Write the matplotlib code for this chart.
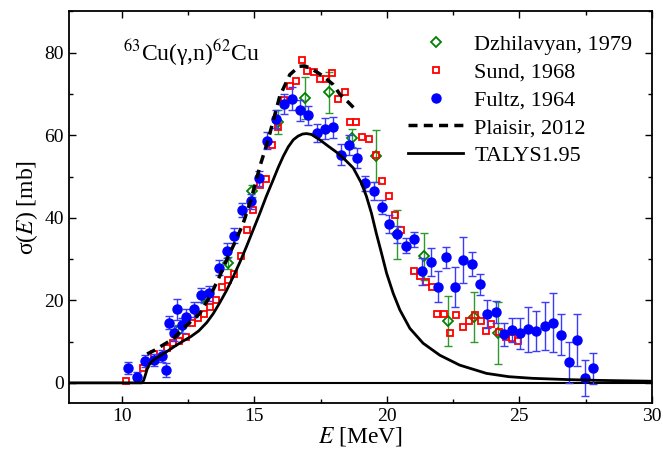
import matplotlib
matplotlib.use("Agg")
import matplotlib.pyplot as plt
from matplotlib.ticker import MultipleLocator

plt.rcParams['font.family'] = 'serif'
plt.rcParams['font.serif'] = ['Liberation Serif', 'DejaVu Serif']
plt.rcParams['mathtext.fontset'] = 'stix'

# ---- data ----
fultz_E = [10.24, 10.58, 10.88, 11.21, 11.5, 11.65, 11.79, 11.97, 12.09, 12.25, 12.42, 12.72,
           13.0, 13.28, 13.66, 13.95, 14.24, 14.54, 14.87, 15.18, 15.48, 15.81, 16.11, 16.43,
           16.72, 17.03, 17.35, 17.66, 17.95, 18.26, 18.57, 18.88, 19.19, 19.51, 19.8, 20.09,
           20.4, 20.72, 21.03, 21.33, 21.66, 21.94, 22.25, 22.57, 22.88, 23.2, 23.51, 23.8,
           24.11, 24.42, 24.73, 25.02, 25.33, 25.65, 25.96, 26.28, 26.59, 26.88, 27.18, 27.48, 27.78]
fultz_s = [3.6, 1.5, 5.3, 5.5, 6.5, 3.1, 14.6, 12.0, 17.8, 14.0, 16.0, 17.8,
           21.3, 21.7, 27.9, 32.0, 35.7, 41.9, 44.0, 49.6, 58.7, 64.0, 67.6, 68.8,
           66.0, 64.8, 60.6, 61.6, 61.9, 55.3, 57.6, 54.5, 48.4, 46.4, 42.7, 38.5,
           36.0, 33.2, 34.8, 27.0, 29.2, 23.3, 30.4, 23.3, 29.8, 28.8, 23.9, 16.7,
           17.2, 11.8, 12.8, 12.0, 13.0, 12.6, 13.8, 14.6, 11.7, 5.0, 10.4, 1.2, 3.5]
fultz_err = [1.5, 1.2, 1.5, 1.5, 1.5, 1.8, 1.5, 1.8, 2.5, 1.8, 1.8, 1.8,
             1.8, 1.8, 1.8, 1.8, 1.8, 1.8, 1.8, 1.8, 2.0, 2.2, 2.4, 2.8,
             2.6, 2.4, 2.2, 2.6, 2.6, 2.6, 2.4, 2.5, 1.8, 2.2, 1.7, 2.2,
             2.0, 1.8, 1.8, 3.2, 3.4, 3.8, 2.6, 4.8, 5.6, 3.0, 2.6, 3.4,
             2.6, 2.8, 2.8, 3.8, 5.5, 4.9, 5.9, 7.1, 4.9, 5.0, 6.3, 4.4, 3.8]

sund_E = [10.14, 10.79, 11.22, 11.72, 11.91, 12.16, 12.42, 12.65, 12.88, 13.09, 13.32, 13.55,
          13.79, 14.01, 14.23, 14.49, 14.73, 14.96, 15.21, 15.42, 15.65, 15.9, 16.11, 16.34,
          16.57, 16.8, 16.99, 17.25, 17.48, 17.7, 17.92, 18.16, 18.42, 18.6, 18.85, 19.08,
          19.33, 19.58, 19.83, 20.09, 20.3, 20.55, 21.02, 21.25, 21.47, 21.69, 21.91, 22.16,
          22.4, 22.63, 22.86, 23.09, 23.32, 23.57, 23.76, 23.95, 24.23, 24.48, 24.73, 24.96]
sund_s = [0.5, 3.5, 7.1, 8.4, 9.6, 10.2, 11.2, 14.6, 15.6, 16.7, 18.5, 20.1,
          23.2, 24.9, 26.3, 30.8, 37.1, 41.8, 48.0, 49.4, 57.6, 62.0, 68.6, 71.9,
          73.1, 78.2, 75.5, 75.3, 73.7, 73.7, 75.1, 68.8, 70.4, 63.1, 63.2, 59.6,
          59.2, 55.3, 49.0, 45.2, 40.6, 37.1, 27.0, 25.9, 24.5, 23.3, 16.6, 16.8,
          12.0, 16.4, 13.6, 15.1, 16.5, 15.1, 12.6, 14.3, 12.4, 11.0, 10.8, 10.2]

dzh_E = [12.1, 13.1, 14.0, 14.9, 15.9, 16.9, 17.8, 18.7, 19.6, 20.4, 21.4, 22.3, 23.3, 24.2]
dzh_s = [12.5, 20.8, 29.0, 46.5, 63.2, 69.0, 70.4, 59.3, 54.9, 36.0, 30.7, 15.0, 16.0, 12.1]
dzh_err = [1.5, 1.5, 1.5, 1.5, 2.8, 5.0, 5.0, 2.2, 6.3, 5.9, 5.7, 6.0, 6.0, 7.6]

plaisir_E = [10.95, 11.2, 11.56, 11.9, 12.38, 12.94, 13.38, 13.7, 14.01, 14.3, 14.58, 14.9,
             15.21, 15.52, 15.96, 16.34, 16.69, 16.9, 17.1, 17.41, 17.6, 17.97, 18.23, 18.5, 18.79]
plaisir_s = [7.0, 7.8, 9.2, 10.5, 13.6, 16.8, 21.7, 26.0, 30.6, 34.5, 38.7, 45.0,
             52.5, 58.9, 69.5, 74.7, 76.7, 76.8, 76.3, 75.1, 74.3, 72.3, 69.9, 68.3, 66.4]

talys_E = [8.0, 10.75, 10.82, 10.88, 10.95, 11.03, 11.12, 11.25, 11.45, 11.7, 12.0, 12.3, 12.6,
           12.9, 13.2, 13.45, 13.7, 13.95, 14.2, 14.45, 14.7, 14.95, 15.2, 15.45, 15.71,
           15.9, 16.09, 16.28, 16.47, 16.65, 16.82, 16.97, 17.15, 17.47, 17.8, 18.1, 18.4,
           18.73, 19.04, 19.23, 19.42, 19.6, 19.8, 19.99, 20.24, 20.49, 20.87, 21.37,
           22.0, 22.75, 23.76, 24.6, 25.5, 26.8, 28.0, 30.0]
talys_s = [0.0, 0.0, 0.6, 1.8, 3.3, 4.4, 5.1, 5.8, 6.6, 7.6, 8.9, 10.1, 11.2,
           12.6, 14.6, 16.8, 19.5, 22.4, 25.7, 29.2, 33.0, 37.0, 41.0, 45.2, 49.2,
           52.2, 54.9, 57.2, 58.9, 59.8, 60.3, 60.4, 60.2, 58.9, 57.3, 55.9, 54.2,
           52.1, 48.4, 45.2, 41.1, 36.3, 31.4, 26.6, 21.7, 17.7, 13.2, 9.6,
           6.7, 4.3, 2.3, 1.5, 1.1, 0.8, 0.6, 0.4]

fig = plt.figure(figsize=(6.63, 4.58), dpi=100)
ax = fig.add_axes([0.104, 0.119, 0.879, 0.856])

ax.axhline(0, color='black', lw=1.5, zorder=1)

ax.errorbar(dzh_E, dzh_s, yerr=dzh_err, fmt='none', ecolor='#2e9a2e', elinewidth=1.0,
            capsize=3, capthick=1.0, zorder=2)
ax.plot(dzh_E, dzh_s, linestyle='none', marker='D', markersize=5, mfc='none',
        mec='#008000', mew=1.3, label='Dzhilavyan, 1979', zorder=3)
ax.plot(sund_E, sund_s, linestyle='none', marker='s', markersize=5, mfc='none',
        mec='#ff0000', mew=1.3, label='Sund, 1968', zorder=3)
ax.errorbar(fultz_E, fultz_s, yerr=fultz_err, fmt='none', ecolor='#3b3bff', elinewidth=1.0,
            capsize=3, capthick=1.0, zorder=4)
ax.plot(fultz_E, fultz_s, linestyle='none', marker='o', markersize=6.5, mfc='#0000ff',
        mec='#0000ff', label='Fultz, 1964', zorder=5)
ax.plot(plaisir_E, plaisir_s, color='black', lw=2.5, linestyle=(0, (2.6, 1.8)),
        label='Plaisir, 2012', zorder=6)
ax.plot(talys_E, talys_s, color='black', lw=2.0, label='TALYS1.95', zorder=6)

ax.set_xlim(8, 30)
ax.set_ylim(-5, 90)
ax.xaxis.set_major_locator(MultipleLocator(5))
ax.xaxis.set_minor_locator(MultipleLocator(2.5))
ax.yaxis.set_major_locator(MultipleLocator(20))
ax.yaxis.set_minor_locator(MultipleLocator(10))
ax.tick_params(which='both', direction='in', top=True, right=True, labelsize=14, width=1.0)
ax.tick_params(which='major', length=5)
ax.tick_params(which='minor', length=3)
for sp in ax.spines.values():
    sp.set_linewidth(1.3)

ax.set_xlabel('$E$ [MeV]', fontsize=17, labelpad=0)
ax.set_ylabel('σ($E$) [mb]', fontsize=17, labelpad=3)

ax.text(0.093, 0.895, '$^{63}$Cu(γ,n)$^{62}$Cu', transform=ax.transAxes, fontsize=17,
        ha='left', va='center')

ax.legend(loc='upper right', frameon=False, fontsize=16, handlelength=2.5,
          handletextpad=0.5, labelspacing=0.32, borderaxespad=0.2,
          bbox_to_anchor=(0.99, 0.975))

fig.savefig('out.png', dpi=100)
